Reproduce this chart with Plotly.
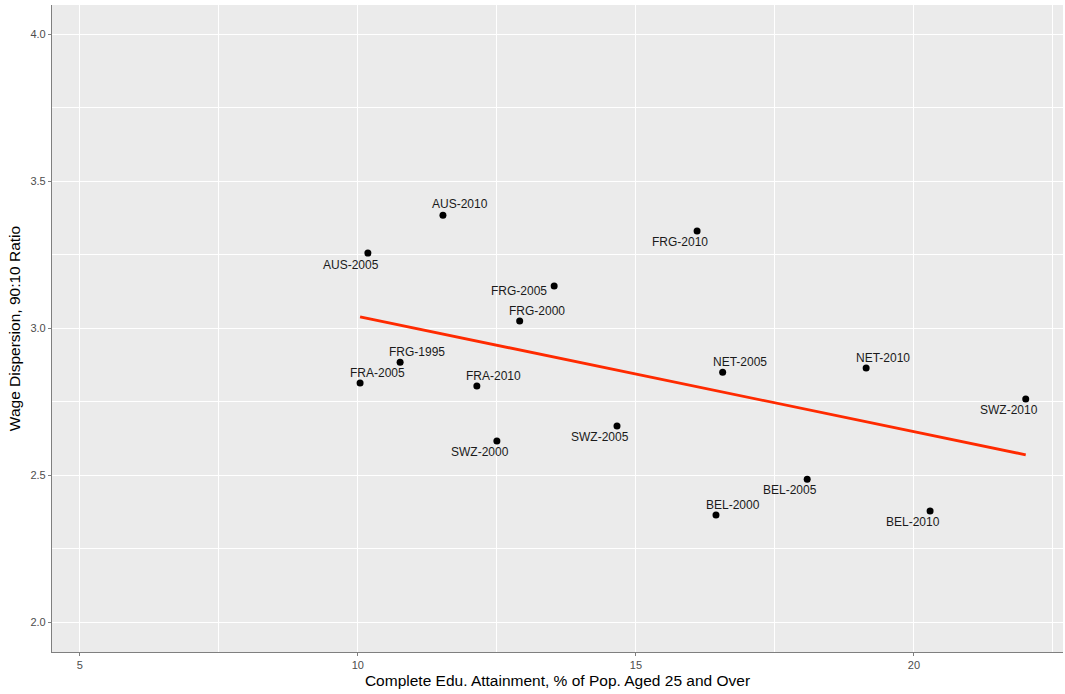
import numpy as np
import plotly.graph_objects as go

# Country-year observations
labels = ["AUS-2010", "AUS-2005", "FRG-2010", "FRG-2005", "FRG-2000", "FRG-1995",
          "FRA-2005", "FRA-2010", "NET-2005", "NET-2010", "SWZ-2010", "SWZ-2005",
          "SWZ-2000", "BEL-2005", "BEL-2000", "BEL-2010"]
edu_attainment = [11.53, 10.18, 16.10, 13.53, 12.91, 10.76, 10.04, 12.14,
                  16.56, 19.14, 22.01, 14.66, 12.50, 18.08, 16.44, 20.29]
wage_ratio = [3.384, 3.255, 3.330, 3.143, 3.024, 2.884, 2.813, 2.803,
              2.850, 2.864, 2.759, 2.667, 2.616, 2.486, 2.364, 2.378]

x_ticks = [5, 10, 15, 20]
y_ticks = [2.0, 2.5, 3.0, 3.5, 4.0]
y_tick_text = ["2.0", "2.5", "3.0", "3.5", "4.0"]

# Label offsets in pixels (dx, dy) relative to each point
label_offsets = [(17, -11), (-17, 12), (-17, 11), (-35, 5), (17, -10), (17, -10),
                 (17, -10), (17, -10), (17, -10), (17, -10), (-17, 11), (-17, 11),
                 (-17, 11), (-17, 11), (17, -10), (-17, 11)]

# Least-squares fit line over the observed x range
slope, intercept = np.polyfit(edu_attainment, wage_ratio, 1)
fit_x = np.array([min(edu_attainment), max(edu_attainment)])
fit_y = intercept + slope * fit_x

FONT = "Liberation Sans, Arial, sans-serif"

fig = go.Figure()
fig.add_trace(go.Scatter(
    x=edu_attainment, y=wage_ratio, mode="markers",
    marker=dict(color="black", size=7),
    hoverinfo="text", text=labels, showlegend=False,
))
fig.add_trace(go.Scatter(
    x=fit_x, y=fit_y, mode="lines",
    line=dict(color="#FF2A00", width=2.8),
    hoverinfo="skip", showlegend=False,
))

for name, xv, yv, (dx, dy) in zip(labels, edu_attainment, wage_ratio, label_offsets):
    fig.add_annotation(
        x=xv, y=yv, text=name, showarrow=True, arrowcolor="rgba(0,0,0,0)",
        ax=dx, ay=dy, xanchor="center", yanchor="middle",
        font=dict(family=FONT, size=12, color="#1a1a1a"),
    )

axis_common = dict(
    showline=True, linecolor="#7f7f7f", linewidth=1.2,
    ticks="outside", ticklen=3, tickcolor="#7f7f7f", tickwidth=1,
    showgrid=True, gridcolor="white", gridwidth=1.3, zeroline=False,
    tickfont=dict(family=FONT, size=11, color="#4d4d4d"),
    mirror=False,
)

fig.update_layout(
    width=1065, height=694,
    margin=dict(l=52, r=2, t=5, b=42),
    paper_bgcolor="white", plot_bgcolor="#EBEBEB",
    xaxis=dict(
        range=[4.5, 22.68], tickvals=x_ticks, ticktext=[str(v) for v in x_ticks],
        minor=dict(tickvals=[7.5, 12.5, 17.5, 22.5], showgrid=True,
                   gridcolor="white", gridwidth=0.6, ticks=""),
        title=dict(text="Complete Edu. Attainment, % of Pop. Aged 25 and Over",
                   font=dict(family=FONT, size=15.5, color="black"),
                   standoff=4),
        **axis_common,
    ),
    yaxis=dict(
        range=[1.898, 4.099], tickvals=y_ticks, ticktext=y_tick_text,
        minor=dict(tickvals=[2.25, 2.75, 3.25, 3.75], showgrid=True,
                   gridcolor="white", gridwidth=0.6, ticks=""),
        title=dict(text="Wage Dispersion, 90:10 Ratio",
                   font=dict(family=FONT, size=15.5, color="black"),
                   standoff=5),
        **axis_common,
    ),
)

fig.write_html("out.html")
